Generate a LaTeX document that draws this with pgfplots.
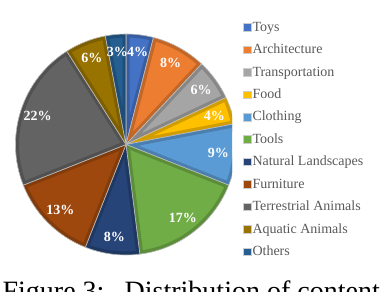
\documentclass[border=0pt]{standalone}
\usepackage{fontspec}
\setmainfont{Liberation Serif}
\usepackage{pgfplots}
\usepackage{pgfplotstable}
\pgfplotsset{compat=1.18}

\definecolor{cToys}{HTML}{4472C4}
\definecolor{cArch}{HTML}{ED7D31}
\definecolor{cTrans}{HTML}{A5A5A5}
\definecolor{cFood}{HTML}{FFC000}
\definecolor{cCloth}{HTML}{5B9BD5}
\definecolor{cTools}{HTML}{70AD47}
\definecolor{cNat}{HTML}{264478}
\definecolor{cFurn}{HTML}{9E480E}
\definecolor{cTerr}{HTML}{636363}
\definecolor{cAqua}{HTML}{997300}
\definecolor{cOth}{HTML}{255E91}
\definecolor{legtext}{HTML}{595959}

\pgfplotstableread[col sep=comma]{
label,value,color
Toys,4,cToys
Architecture,8,cArch
Transportation,6,cTrans
Food,4,cFood
Clothing,9,cCloth
Tools,17,cTools
Natural Landscapes,8,cNat
Furniture,13,cFurn
Terrestrial Animals,22,cTerr
Aquatic Animals,6,cAqua
Others,3,cOth
}\piedata

\def\cx{126}
\def\cy{147.5}
\def\R{110.5}

\begin{document}
\begin{tikzpicture}
\useasboundingbox (0,0) rectangle (386pt,292pt);
\clip (0,0) rectangle (386pt,292pt);
\begin{axis}[
  x=1pt, y=1pt, disabledatascaling,
  xmin=0, xmax=386, ymin=0, ymax=292,
  hide axis, clip=false,
  at={(0,0)}, anchor=origin,
]
\pgfplotsextra{%
  \begin{scope}
  \clip (axis cs:0,0) rectangle (axis cs:232,292);
  \def\cum{0}%
  \pgfplotsforeachungrouped \i in {0,...,10}{%
    \pgfplotstablegetelem{\i}{value}\of\piedata \let\wval\pgfplotsretval
    \pgfplotstablegetelem{\i}{color}\of\piedata \let\wcol\pgfplotsretval
    \pgfmathsetmacro\aone{90-3.6*\cum}%
    \pgfmathsetmacro\atwo{90-3.6*(\cum+\wval)}%
    \begin{scope}
      \clip (axis cs:\cx,\cy) -- ++(\aone:\R pt) arc[start angle=\aone, end angle=\atwo, radius=\R pt] -- cycle;
      \fill[\wcol] (axis cs:\cx,\cy) -- ++(\aone:\R pt) arc[start angle=\aone, end angle=\atwo, radius=\R pt] -- cycle;
      \draw[\wcol!82!black, line width=7pt] (axis cs:\cx,\cy) -- ++(\aone:\R pt) arc[start angle=\aone, end angle=\atwo, radius=\R pt] -- cycle;
    \end{scope}
    \draw[black!25, line width=0.6pt] (axis cs:\cx,\cy) -- ++(\aone:\R pt) arc[start angle=\aone, end angle=\atwo, radius=\R pt] -- cycle;
    \pgfmathsetmacro\cum{\cum+\wval}%
  }%
  \end{scope}
  \def\cum{0}%
  \pgfplotsforeachungrouped \i in {0,...,10}{%
    \pgfplotstablegetelem{\i}{value}\of\piedata \let\wval\pgfplotsretval
    \pgfmathsetmacro\amid{90-3.6*(\cum+0.5*\wval)}%
    \pgfmathsetmacro\lx{\cx+0.84*\R*cos(\amid)}%
    \pgfmathsetmacro\ly{\cy+0.84*\R*sin(\amid)}%
    \node[text=white, font=\bfseries\fontsize{14}{15}\selectfont, inner sep=0pt] at (axis cs:\lx,\ly) {\wval\%};
    \pgfmathsetmacro\cum{\cum+\wval}%
  }%
  \pgfplotsforeachungrouped \i in {0,...,10}{%
    \pgfplotstablegetelem{\i}{label}\of\piedata \let\wlab\pgfplotsretval
    \pgfplotstablegetelem{\i}{color}\of\piedata \let\wcol\pgfplotsretval
    \pgfmathsetmacro\ry{292-(27.2+22.45*\i)}%
    \fill[\wcol, draw=black!20, line width=0.4pt] (axis cs:243.5,\ry-3.8) rectangle (axis cs:251.1,\ry+3.8);
    \node[anchor=base west, inner sep=0pt, text=legtext, font=\fontsize{14}{16}\selectfont] at (axis cs:252.3,\ry-4) {\wlab};
  }%
}
\end{axis}
\node[anchor=base west, inner sep=0pt, font=\fontsize{28}{30}\selectfont] at (2.4pt,-8.5pt) {Figure 3:};
\node[anchor=base west, inner sep=0pt, font=\fontsize{28}{30}\selectfont] at (124.5pt,-8.5pt) {Distribution of content};
\end{tikzpicture}
\end{document}
